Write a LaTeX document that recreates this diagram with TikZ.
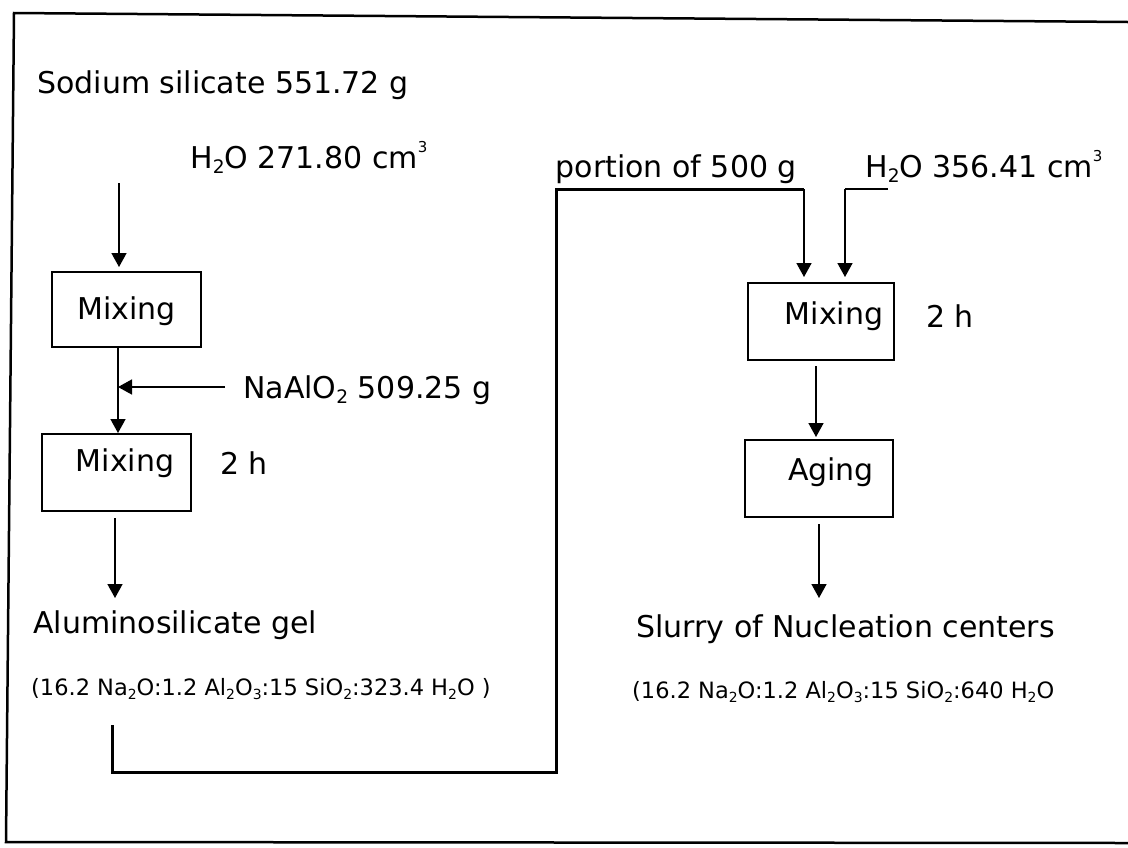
\documentclass[tikz,border=0pt]{standalone}
\usepackage{fontspec}
\setmainfont{DejaVu Sans}
\usetikzlibrary{arrows.meta}
\newcommand\bigtxt{\fontsize{30}{36}\selectfont}
\newcommand\smalltxt{\fontsize{22.5}{27}\selectfont}
\newcommand\dn[1]{\raisebox{-0.35ex}{\scalebox{0.62}{#1}}}
\newcommand\up[1]{\raisebox{0.95ex}{\scalebox{0.5}{#1}}}
\tikzset{
  lbl/.style={inner sep=0pt, anchor=base west, font=\bigtxt},
  formula/.style={inner sep=0pt, anchor=base west, font=\smalltxt},
  procbox/.style={draw, line width=2pt, rectangle, inner sep=0pt, font=\bigtxt},
  flow/.style={line width=1.6pt, -{Triangle[width=15pt,length=14pt]}},
  transfer/.style={line width=3pt, line join=miter},
  frame/.style={line width=2.5pt}
}
\begin{document}
\begin{tikzpicture}[x=1pt,y=-1pt]
\useasboundingbox (0,0) rectangle (1128,847);
\fill[white] (0,0) rectangle (1128,847);
% outer frame
\draw[frame] (1128,22) -- (14,13) -- (6,842) -- (1128,843);

% left column
\node[lbl] (sod) at (37,93) {Sodium silicate 551.72 g};
\node[lbl] (w1) at (190,168) {H\dn{2}O 271.80 cm\up{3}};
\node[procbox, minimum width=149pt, minimum height=75pt,
      label={[font=\bigtxt, inner sep=0pt, yshift=-2pt]center:Mixing}] (box1) at (126.5,309.5) {};
\node[procbox, minimum width=149pt, minimum height=77pt,
      label={[font=\bigtxt, inner sep=0pt, xshift=8.5pt, yshift=9pt]center:Mixing}] (box2) at (116.5,472.5) {};
\node[lbl] (na) at (243,398) {NaAlO\dn{2} 509.25 g};
\node[lbl] (t2) at (220,474) {2 h};
\node[lbl] (gel) at (33,633) {Aluminosilicate gel};
\node[formula] (f1) at (31,695) {(16.2 Na\dn{2}O:1.2 Al\dn{2}O\dn{3}:15 SiO\dn{2}:323.4 H\dn{2}O )};

\coordinate (s1) at (119,183);
\coordinate (j1) at (118,387);
\coordinate (na0) at (225,387);
\coordinate (g0) at (115,598);

\draw[flow, shorten >=4pt] (s1) -- (s1 |- box1.north);
\draw[flow] (j1 |- box1.south) -- (j1 |- box2.north);
\draw[flow] (na0) -- (j1);
\draw[flow, shorten <=6pt] (g0 |- box2.south) -- (g0);

% transfer connector
\coordinate (lc0) at (112,725);
\coordinate (lc1) at (112,772);
\coordinate (lc2) at (556,772);
\coordinate (lc3) at (556,189);
\coordinate (lc4) at (804,189);

% right column
\node[lbl, anchor=base east] (por) at (797,177) {portion of 500 g};
\node[lbl] (w2) at (865,177) {H\dn{2}O 356.41 cm\up{3}};
\node[procbox, minimum width=146pt, minimum height=77pt,
      label={[font=\bigtxt, inner sep=0pt, xshift=13pt, yshift=5pt]center:Mixing}] (box3) at (821,321.5) {};
\node[lbl] (t3) at (926,327) {2 h};
\node[procbox, minimum width=148pt, minimum height=77pt,
      label={[font=\bigtxt, inner sep=0pt, xshift=12pt, yshift=6pt]center:Aging}] (age) at (819,478.5) {};
\node[lbl] (sl) at (636,637) {Slurry of Nucleation centers};
\node[formula] (f2) at (632,698) {(16.2 Na\dn{2}O:1.2 Al\dn{2}O\dn{3}:15 SiO\dn{2}:640 H\dn{2}O};

\draw[transfer] (lc0) -- (lc1) -- (lc2) -- (lc3) -- (lc4);
\draw[flow, shorten >=5pt] (lc4) -- (lc4 |- box3.north);

\coordinate (w2a) at (888,189);
\coordinate (w2b) at (845,189);
\draw[line width=1.6pt] (w2a) -- (w2b);
\draw[flow, shorten >=5pt] (w2b) -- (w2b |- box3.north);

\coordinate (a3) at (816,437);
\draw[flow, shorten <=5pt] (a3 |- box3.south) -- (a3);
\coordinate (a4) at (819,598);
\draw[flow, shorten <=6pt] (a4 |- age.south) -- (a4);
\end{tikzpicture}
\end{document}
